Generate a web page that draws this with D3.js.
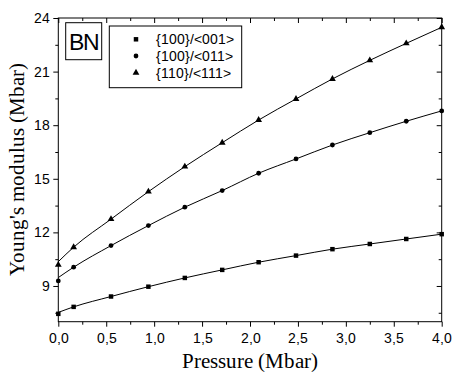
<!DOCTYPE html>
<html>
<head>
<meta charset="utf-8">
<script src="https://cdn.jsdelivr.net/npm/d3@7"></script>
<style>
@font-face { font-family: "TitleSerif"; src: local("Liberation Serif"), local("LiberationSerif"), local("Liberation Serif Regular"), local("LiberationSerif-Regular"); }
@font-face { font-family: "LabelSans"; src: local("Liberation Sans"), local("LiberationSans"), local("Liberation Sans Regular"), local("LiberationSans-Regular"); }
body { margin: 0; }
text.t-serif { font-family: "TitleSerif", "Liberation Serif", "Times New Roman", Tinos !important; }
text.t-sans { font-family: "LabelSans", "Liberation Sans", Arial, Arimo !important; }
</style>
</head>
<body>
<div id="chart"></div>
<script>
// pressure points (Mbar)
var pressure = [0, 0.16, 0.55, 0.94, 1.32, 1.71, 2.09, 2.48, 2.86, 3.25, 3.63, 4.0];

// Young's modulus (Mbar) for each direction
var e001 = [7.44, 7.83, 8.41, 8.96, 9.45, 9.90, 10.33, 10.70, 11.06, 11.35, 11.63, 11.90];
var e011 = [9.28, 10.05, 11.26, 12.38, 13.41, 14.34, 15.31, 16.11, 16.89, 17.58, 18.22, 18.80];
var e111 = [10.18, 11.17, 12.74, 14.28, 15.68, 17.02, 18.29, 19.47, 20.59, 21.63, 22.58, 23.48];

// fitted curve value at P = 0 (the fit misses the first point slightly)
var fitStart = [7.52, 9.47, 10.36];

var seriesNames = ["{100}/<001>", "{100}/<011>", "{110}/<111>"];
var seriesSymbols = [d3.symbolSquare, d3.symbolCircle, d3.symbolTriangle];
var seriesValues = [e001, e011, e111];

var xTicks = [0, 0.5, 1, 1.5, 2, 2.5, 3, 3.5, 4];
var yTicks = [9, 12, 15, 18, 21, 24];

var W = 455, H = 381;
var margin = {top: 18, right: 13.3, bottom: 59.3, left: 58.3};
var width = W - margin.left - margin.right,
    height = H - margin.top - margin.bottom;

var svg = d3.select("#chart").append("svg")
    .attr("width", W)
    .attr("height", H)
    .style("display", "block");

var g = svg.append("g")
    .attr("transform", "translate(" + margin.left + "," + margin.top + ")");

var x = d3.scaleLinear().domain([0, 4]).range([0, width]);
var y = d3.scaleLinear().domain([7, 24]).range([height, 0]);

var fmt = function(d) { return d3.format(".1f")(d).replace(".", ","); };

// minor ticks
var xMinor = d3.range(0.25, 4, 0.5);
var yMinor = d3.range(7.5, 24, 3);

function sans(sel, size) {
  sel.attr("class", "t-sans").attr("font-size", size).style("font-size", size + "px");
}
function serif(sel, size) {
  sel.attr("class", "t-serif").attr("font-size", size).style("font-size", size + "px");
}

function styleAxis(sel) {
  sel.attr("font-family", null);
  sel.select(".domain").remove();
  sel.selectAll("line").attr("stroke", "#000").attr("stroke-width", 1);
  sel.selectAll("text").attr("fill", "#000").call(sans, 14);
}

// bottom axis (ticks outward)
g.append("g").attr("transform", "translate(0," + height + ")")
  .call(d3.axisBottom(x).tickValues(xTicks).tickFormat(fmt).tickSize(5).tickPadding(6))
  .call(styleAxis);
g.append("g").attr("transform", "translate(0," + height + ")")
  .call(d3.axisBottom(x).tickValues(xMinor).tickFormat("").tickSize(3))
  .call(styleAxis);

// top axis (ticks inward)
g.append("g")
  .call(d3.axisTop(x).tickValues(xTicks).tickFormat("").tickSize(-5))
  .call(styleAxis);
g.append("g")
  .call(d3.axisTop(x).tickValues(xMinor).tickFormat("").tickSize(-3))
  .call(styleAxis);

// left axis (ticks outward)
g.append("g")
  .call(d3.axisLeft(y).tickValues(yTicks).tickFormat(d3.format("d")).tickSize(5).tickPadding(3))
  .call(styleAxis);
g.append("g")
  .call(d3.axisLeft(y).tickValues(yMinor).tickFormat("").tickSize(3))
  .call(styleAxis);

// right axis (ticks inward)
g.append("g").attr("transform", "translate(" + width + ",0)")
  .call(d3.axisRight(y).tickValues(yTicks).tickFormat("").tickSize(-5))
  .call(styleAxis);
g.append("g").attr("transform", "translate(" + width + ",0)")
  .call(d3.axisRight(y).tickValues(yMinor).tickFormat("").tickSize(-3))
  .call(styleAxis);

// frame
g.append("rect")
  .attr("width", width).attr("height", height)
  .attr("fill", "none").attr("stroke", "#000").attr("stroke-width", 1);

// fitted lines
var line = d3.line()
  .x(function(d) { return x(d[0]); })
  .y(function(d) { return y(d[1]); })
  .curve(d3.curveMonotoneX);

seriesValues.forEach(function(vals, i) {
  var pts = pressure.map(function(p, j) { return [p, j === 0 ? fitStart[i] : vals[j]]; });
  g.append("path")
    .datum(pts)
    .attr("d", line)
    .attr("fill", "none")
    .attr("stroke", "#000")
    .attr("stroke-width", 1);
});

// markers
var symSize = [20, 18, 20];
seriesValues.forEach(function(vals, i) {
  g.selectAll(".m" + i)
    .data(vals)
    .enter().append("path")
    .attr("class", "m" + i)
    .attr("transform", function(d, j) { return "translate(" + x(pressure[j]) + "," + y(d) + ")"; })
    .attr("d", d3.symbol().type(seriesSymbols[i]).size(symSize[i]))
    .attr("fill", "#000");
});

// BN label box
svg.append("rect")
  .attr("x", 65.7).attr("y", 22.7).attr("width", 36).attr("height", 37)
  .attr("fill", "#fff").attr("stroke", "#000").attr("stroke-width", 1);
svg.append("text")
  .attr("x", 83.7).attr("y", 50)
  .attr("text-anchor", "middle")
  .attr("letter-spacing", "-1.5px")
  .call(sans, 23)
  .text("BN");

// legend
svg.append("rect")
  .attr("x", 109.3).attr("y", 26).attr("width", 132.4).attr("height", 61.7)
  .attr("fill", "#fff").attr("stroke", "#000").attr("stroke-width", 1);

var legend = svg.selectAll(".legend")
    .data(seriesNames)
  .enter().append("g")
    .attr("class", "legend")
    .attr("transform", function(d, i) { return "translate(136," + (39.3 + i * 16.7) + ")"; });

legend.append("path")
  .attr("d", function(d, i) { return d3.symbol().type(seriesSymbols[i]).size(symSize[i])(); })
  .attr("fill", "#000");

legend.append("text")
  .attr("x", 20)
  .attr("dy", "0.35em")
  .call(sans, 14)
  .text(function(d) { return d; });

// axis titles
svg.append("text")
  .attr("x", margin.left + width / 2).attr("y", 368)
  .attr("text-anchor", "middle")
  .call(serif, 20.5)
  .text("Pressure (Mbar)");

svg.append("text")
  .attr("transform", "translate(24," + (margin.top + height / 2) + ") rotate(-90)")
  .attr("text-anchor", "middle")
  .call(serif, 21)
  .text("Young's modulus (Mbar)");
</script>
</body>
</html>
